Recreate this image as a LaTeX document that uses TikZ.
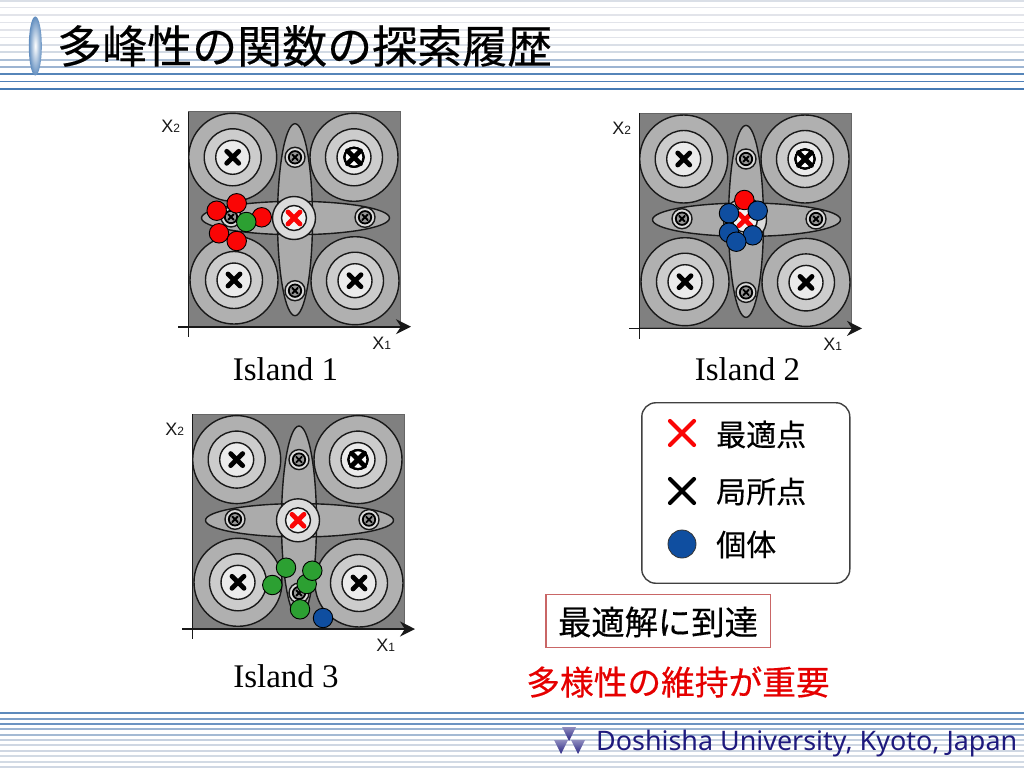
\documentclass[tikz,border=0pt]{standalone}
\usepackage{fontspec}
\setmainfont{Liberation Serif}
\newfontfamily\jafont[FakeBold=0.35]{Noto Sans CJK JP}
\newfontfamily\axfont{Liberation Sans}
\newfontfamily\footfont{Noto Sans}
\usepackage{tikz}
\usetikzlibrary{arrows.meta,shapes.geometric,calc}
\definecolor{dsblue}{RGB}{70,122,180}
\definecolor{dsgray}{RGB}{226,228,234}
\definecolor{dsred}{RGB}{250,5,5}
\definecolor{dsgreen}{RGB}{44,160,50}
\definecolor{dsind}{RGB}{15,78,160}
\definecolor{dsnavy}{RGB}{30,25,125}
\newcommand{\fsz}[1]{\fontsize{#1}{#1}\selectfont}
\newcommand{\crossat}[4]{% centre, half size, width, colour
  \draw[#4,line width=#3,line cap=round] ($(#1)+(-#2,-#2)$) -- ($(#1)+(#2,#2)$) ($(#1)+(-#2,#2)$) -- ($(#1)+(#2,-#2)$);}

\begin{document}
\begin{tikzpicture}[
    x=1pt,y=-1pt,
    ind/.style={circle, draw=black, line width=0.9pt, minimum size=19.5pt, inner sep=0pt},
    ring/.style={draw=black!90, line width=1.4pt},
    islandlabel/.style={font=\fsz{33}, text=black},
    axlabel/.style={font=\axfont\fsz{18}, text=black!90, inner sep=0pt},
    jalabel/.style={font=\jafont\fsz{30}, anchor=west, inner sep=0pt}
]
\useasboundingbox (0,0) rectangle (1024,768);

% header and footer stripes
\foreach \y/\p in {1/5,7.7/0,15/0,22.7/0,30/0,37.7/0,45/5,52.3/10,59.7/35,66.7/45,74/90,81.3/95,89/100}
  \draw[dsblue!\p!dsgray, line width=1.6pt] (0,\y) -- (1024,\y);
\foreach \y/\p in {713.3/85,718.7/65,724/75,729.3/45,735/40,740/18,745/12,750.7/12,756/10,761.7/10,766.7/12}
  \draw[dsblue!\p!dsgray, line width=2pt] (0,\y) -- (1024,\y);

% title
\node[ellipse, minimum width=13pt, minimum height=59pt, inner sep=0pt, inner color=white, outer color=dsblue!85] (titlemark) at (35.3,46) {};
\node[font=\jafont\fsz{45}, anchor=west, inner sep=0pt] (title) at (57,46) {多峰性の関数の探索履歴};

% the three islands
\foreach \ox/\oy/\n/\lx/\ly in {0/0/1/285.5/369, 451/1.7/2/296.5/367.3, 4/302.3/3/282/373.7}{
  \begin{scope}[shift={(\ox,\oy)}]
    \fill[black!50] (188.3,111.7) rectangle (400,326);
    \draw[black!60, line width=0.8pt] (188.3,111.7) rectangle (400,326);
    \foreach \cx/\cy in {232.7/157.3, 354/157.3, 234/280, 355/280.7}{
      \draw[ring, fill=black!31] (\cx,\cy) circle (44);
      \draw[ring, fill=black!20] (\cx,\cy) circle (28.5);
      \draw[ring, fill=black!8] (\cx,\cy) circle (17);
    }
    \fill[black!33] (295,219.7) ellipse (17.5 and 96);
    \fill[black!33] (295.5,218) ellipse (94 and 16.7);
    \draw[ring] (295,219.7) ellipse (17.5 and 96);
    \draw[ring] (295.5,218) ellipse (94 and 16.7);
    \draw[ring, fill=black!14] (294,218) circle (21.5);
    \draw[ring, fill=black!5] (294,218) circle (12.5);
    \foreach \cx/\cy in {232.7/157.3, 234/280, 355/280.7}
      \crossat{\cx,\cy}{6}{4.8pt}{black}
    \draw[black, line width=2.2pt, fill=white] (354,157.3) circle (9.5);
    \crossat{354,157.3}{6.5}{4.8pt}{black}
    \crossat{294,218}{6}{4.8pt}{dsred}
    \foreach \cx/\cy in {295/157.3, 295/290.7, 365/217.3, 231/217}{
      \draw[ring, fill=black!14] (\cx,\cy) circle (10);
      \draw[black, line width=1.8pt, fill=black!40] (\cx,\cy) circle (6.2);
      \crossat{\cx,\cy}{2.8}{1.9pt}{black}
    }
    \coordinate (xs\n) at (178,326.7);
    \coordinate (xe\n) at (411,326.7);
    \coordinate (ys\n) at (188.3,111.7);
    \coordinate (ye\n) at (188.3,337);
    \draw[black!90, line width=1.6pt, -{Stealth[length=15pt,width=15pt]}] (xs\n) -- (xe\n);
    \draw[black!90, line width=1.4pt] (ys\n) -- (ye\n);
    \node[axlabel] (xa\n) at (381.7,343) {X{\fsz{12}1}};
    \node[axlabel] (xb\n) at (170.7,126.7) {X{\fsz{12}2}};
    \node[islandlabel] (isl\n) at (\lx,\ly) {Island \n};
  \end{scope}
}

% individuals, island 1
\node[ind, fill=dsred] (ra) at (216.7,210.7) {};
\node[ind, fill=dsred] (rb) at (236.7,203.3) {};
\node[ind, fill=dsred] (rc) at (261.7,217.3) {};
\node[ind, fill=dsred] (rd) at (219,233.3) {};
\node[ind, fill=dsred] (re) at (236.7,241) {};
\node[ind, fill=dsgreen] (ga) at (246.3,222) {};
% individuals, island 2
\node[ind, fill=dsred] (rf) at (744.3,200) {};
\node[ind, fill=dsind] (ba) at (729,213.3) {};
\node[ind, fill=dsind] (bb) at (757.7,210.7) {};
\node[ind, fill=dsind] (bc) at (729,232.7) {};
\node[ind, fill=dsind] (bd) at (752.7,235.3) {};
\node[ind, fill=dsind] (be) at (736.3,241.7) {};
% individuals, island 3
\node[ind, fill=dsgreen] (gb) at (286,567.7) {};
\node[ind, fill=dsgreen] (gc) at (306.7,584) {};
\node[ind, fill=dsgreen] (gd) at (312.3,570.7) {};
\node[ind, fill=dsgreen] (ge) at (272.3,585) {};
\node[ind, fill=dsgreen] (gf) at (300,609.3) {};
\node[ind, fill=dsind] (bf) at (323,618) {};

% legend
\node[draw=black!75, line width=1.4pt, rounded corners=14pt, fill=white, minimum width=208pt, minimum height=180.5pt, inner sep=0pt] (legend) at (745.8,493) {};
\crossat{682,433}{12}{4.2pt}{dsred}
\crossat{682,491}{12}{4.2pt}{black}
\node[circle, draw=black!80, line width=0.8pt, fill=dsind, minimum size=28pt, inner sep=0pt] (legind) at (682,544) {};
\node[jalabel] (legbest) at (716,434.5) {最適点};
\node[jalabel] (leglocal) at (716,491.5) {局所点};
\node[jalabel] (legpop) at (716,544.5) {個体};

% remarks
\node[draw=red!65!black!60!white, line width=1.2pt, fill=white, minimum width=224.5pt, minimum height=53pt, inner sep=0pt] (reached) at (658.3,621) {};
\node[font=\jafont\fsz{33.3}, inner sep=0pt] (reachedtext) at (658,622) {最適解に到達};
\node[font=\jafont\fsz{33.7}, text=red!90!black, inner sep=0pt] (keep) at (678,682) {多様性の維持が重要};

% footer
\foreach \x/\y in {569/727, 561/740, 578/740}
  \shade[top color=dsnavy!50, bottom color=dsnavy!95] (\x-7,\y) -- (\x+7,\y) -- (\x,\y+14) -- cycle;
\node[font=\footfont\fsz{26.9}, text=dsnavy, anchor=west, inner sep=0pt] (univ) at (596,743) {Doshisha University, Kyoto, Japan};
\end{tikzpicture}
\end{document}
